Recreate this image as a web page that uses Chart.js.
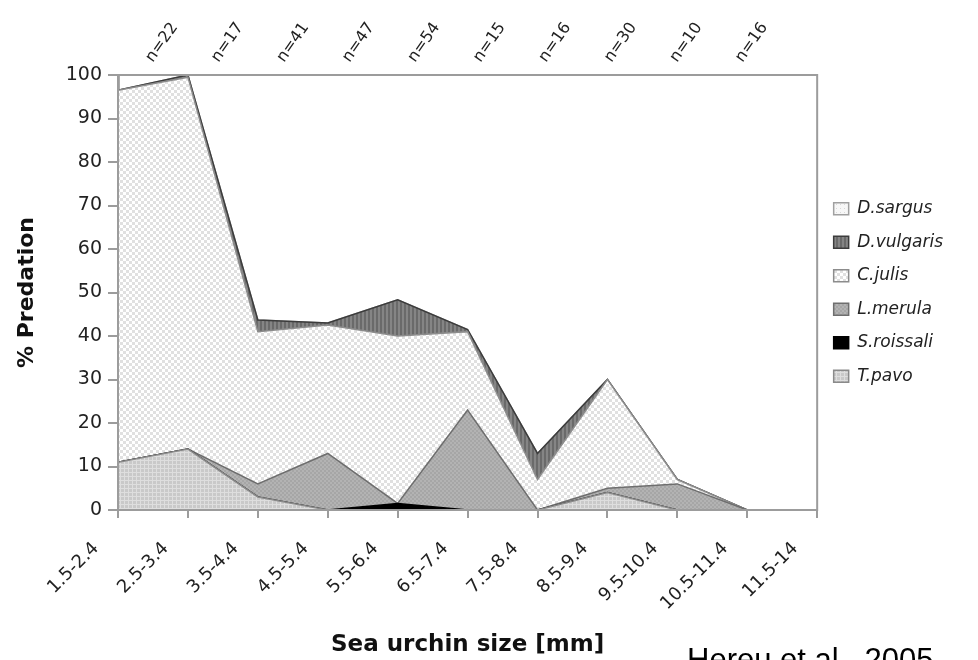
<!DOCTYPE html>
<html><head><meta charset="utf-8">
<script src="https://cdn.jsdelivr.net/npm/chart.js@4.4.1/dist/chart.umd.min.js"></script>
<style>html,body{margin:0;padding:0;background:#fff;}</style>
</head><body>
<canvas id="c" width="978" height="660"></canvas>
<script>
// ---- data ----
const categories = ['1.5-2.4','2.5-3.4','3.5-4.4','4.5-5.4','5.5-6.4','6.5-7.4','7.5-8.4','8.5-9.4','9.5-10.4','10.5-11.4','11.5-14'];
const sampleSizes = ['n=22','n=17','n=41','n=47','n=54','n=15','n=16','n=30','n=10','n=16'];
const tPavo      = [11, 14, 3, 0, 0, 0, 0, 4, 0, 0, 0];
const sRoissali  = [0, 0, 0, 0, 1.5, 0, 0, 0, 0, 0, 0];
const lMerula    = [0, 0, 3, 13, 0, 23, 0, 1, 6, 0, 0];
const cJulis     = [85.5, 85.5, 35, 29.5, 38.5, 18, 7, 25, 1, 0, 0];
const dVulgaris  = [0, 0.5, 2.7, 0.5, 8.3, 0.5, 6, 0, 0, 0, 0];
const dSargus    = [0, 0, 0, 0, 0, 0, 0, 0, 0, 0, 0];
const seriesNames = ['T.pavo','S.roissali','L.merula','C.julis','D.vulgaris','D.sargus'];
const yTitle = '% Predation';
const xTitle = 'Sea urchin size [mm]';
const citation = 'Hereu et al., 2005';

Chart.defaults.font.family = '"DejaVu Sans", sans-serif';

const canvas = document.getElementById('c');
const ctx = canvas.getContext('2d');

function makePattern(w, h, bg, draw) {
  const t = document.createElement('canvas');
  t.width = w; t.height = h;
  const g = t.getContext('2d');
  g.fillStyle = bg; g.fillRect(0, 0, w, h);
  draw(g);
  return ctx.createPattern(t, 'repeat');
}
const pCheckerLight = makePattern(6, 6, '#ffffff', g => { g.fillStyle = '#e0e0e0'; g.fillRect(0,0,3,3); g.fillRect(3,3,3,3); });
const pGrid = makePattern(4, 4, '#c9c9c9', g => { g.fillStyle = '#dedede'; g.fillRect(0,0,1,4); g.fillRect(0,0,4,1); });
const pMed = makePattern(4, 4, '#a6a6a6', g => { g.fillStyle = '#b3b3b3'; g.fillRect(0,0,2,2); g.fillRect(2,2,2,2); });
const pDark = makePattern(4, 4, '#858585', g => { g.fillStyle = '#6a6a6a'; g.fillRect(0,0,2,4); });
const pSargus = makePattern(4, 4, '#f7f7f7', g => { g.fillStyle = '#d8d8d8'; g.fillRect(0,0,1,1); });

const seriesData = [tPavo, sRoissali, lMerula, cJulis, dVulgaris, dSargus];
const fills = [pGrid, '#000000', pMed, pCheckerLight, pDark, pSargus];
const borders = ['#8a8a8a', '#000000', '#6e6e6e', '#8c8c8c', '#3c3c3c', '#a0a0a0'];

const datasets = seriesNames.map((name, i) => ({
  label: name,
  data: seriesData[i],
  backgroundColor: fills[i],
  borderColor: borders[i],
  borderWidth: 1.5,
  fill: i === 0 ? 'origin' : '-1',
  pointRadius: 0,
  tension: 0
}));

const framePlugin = {
  id: 'frame',
  afterDatasetsDraw(chart) {
    const a = chart.chartArea, c = chart.ctx;
    c.save();
    c.strokeStyle = '#9c9c9c';
    c.lineWidth = 2;
    c.strokeRect(a.left, a.top, a.right - a.left, a.bottom - a.top);
    c.restore();
  }
};
const citationPlugin = {
  id: 'citation',
  afterDraw(chart) {
    const c = chart.ctx;
    c.save();
    c.font = '31px "Liberation Sans", Arial, sans-serif';
    c.fillStyle = '#000';
    c.textAlign = 'left';
    c.textBaseline = 'alphabetic';
    c.fillText(citation, 687, 670);
    c.restore();
  }
};

new Chart(ctx, {
  type: 'line',
  data: { labels: categories, datasets },
  plugins: [framePlugin, citationPlugin],
  options: {
    responsive: false,
    animation: false,
    layout: { padding: { left: 0, right: 25, top: 0, bottom: 0 } },
    plugins: {
      legend: {
        position: 'right', fullSize: false, reverse: true, align: 'center',
        labels: { boxWidth: 15, boxHeight: 12, padding: 16.5, color: '#222',
                  font: { size: 17, style: 'italic' } }
      },
      tooltip: { enabled: false }
    },
    scales: {
      x: {
        type: 'category', offset: false,
        grid: { drawOnChartArea: false, drawTicks: true, tickLength: 8, color: '#9c9c9c', lineWidth: 2 },
        border: { display: false },
        ticks: { autoSkip: false, maxRotation: 45, minRotation: 45, labelOffset: -22, padding: 20,
                 color: '#222', font: { size: 18 } },
        title: { display: true, text: xTitle, color: '#111', font: { size: 23, weight: 'bold' },
                 padding: { top: 0, bottom: 1 } },
        afterFit: s => { s.height = 150; }
      },
      xTop: {
        type: 'linear', position: 'top', min: -0.72, max: 9.95,
        grid: { display: true, drawOnChartArea: false, drawTicks: false },
        border: { display: false },
        afterBuildTicks: s => { s.ticks = sampleSizes.map((_, i) => ({ value: i })); },
        ticks: { autoSkip: false, maxRotation: 55, minRotation: 55, padding: 9, color: '#222',
                 font: { size: 16 }, callback: (v, i) => sampleSizes[i] },
        afterFit: s => { s.height = 75; }
      },
      y: {
        stacked: true, min: 0, max: 100,
        ticks: { stepSize: 10, padding: 6, color: '#222', font: { size: 19 } },
        grid: { drawOnChartArea: false, tickLength: 10, color: '#9c9c9c', lineWidth: 2 },
        border: { display: true, color: '#aaaaaa', width: 3 },
        title: { display: true, text: yTitle, color: '#111', font: { size: 22, weight: 'bold' },
                 padding: { top: 14, bottom: 0 } },
        afterFit: s => { s.width = 118; }
      }
    }
  }
});
</script>
</body></html>
